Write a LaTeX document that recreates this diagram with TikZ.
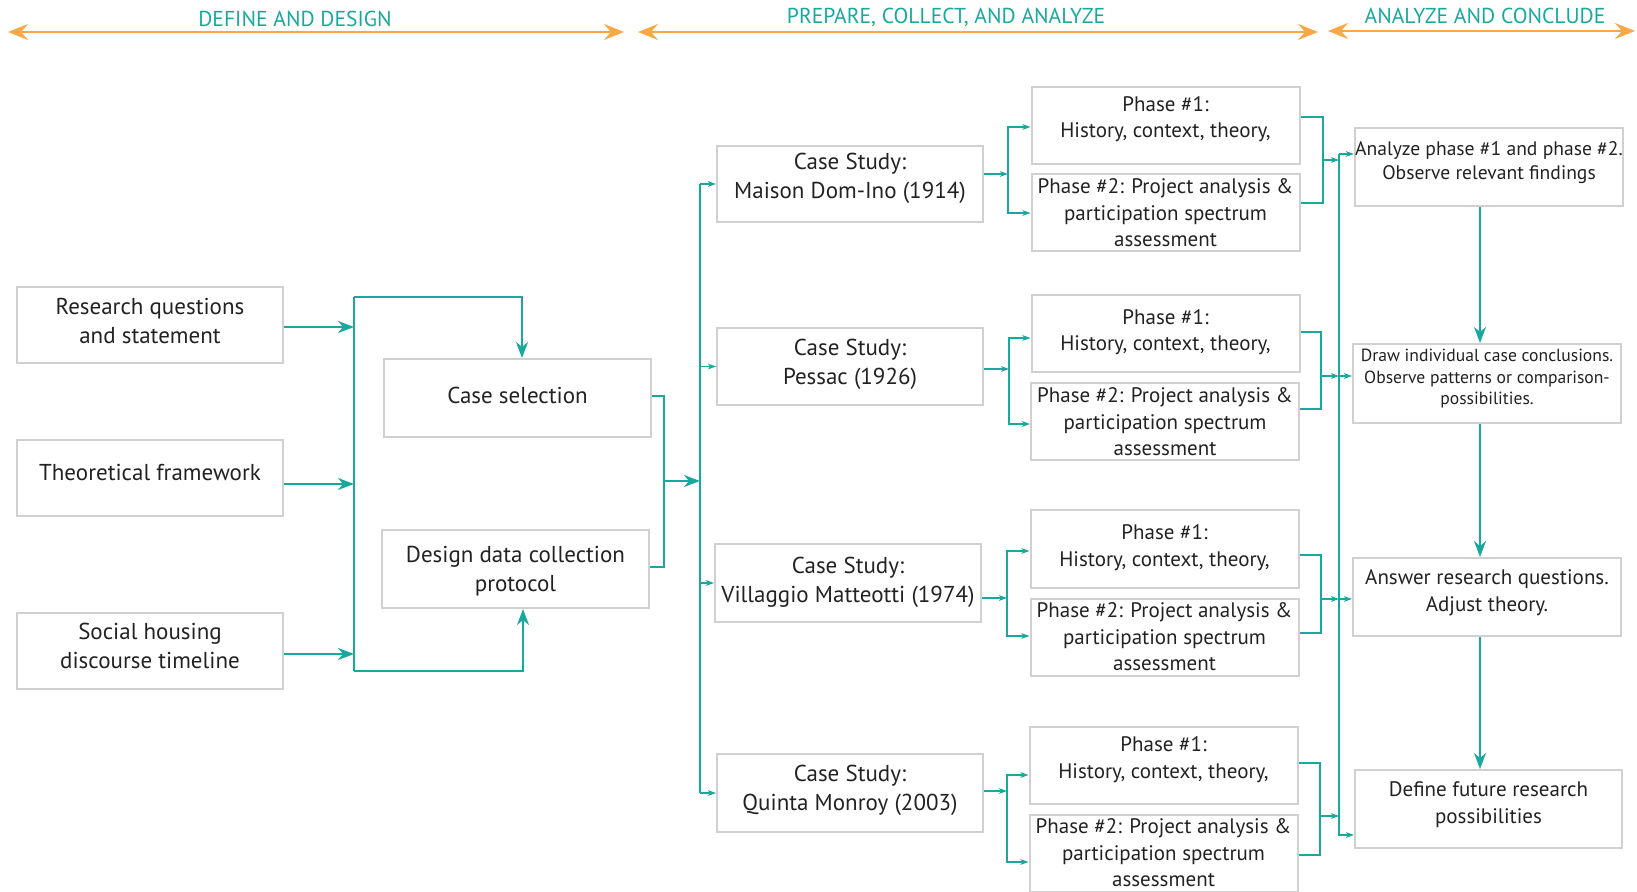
\documentclass[tikz,border=0pt]{standalone}
\usepackage{fontspec}
\setmainfont{PT Sans}
\usetikzlibrary{arrows.meta}
\definecolor{flow}{HTML}{18A89E}
\definecolor{stagebar}{HTML}{F8A945}
\definecolor{stageink}{HTML}{17A99D}
\definecolor{frame}{HTML}{D0D0D0}
\definecolor{ink}{HTML}{222222}
\tikzset{
  box/.style={draw=frame, line width=1pt, text=ink, align=center, inner sep=0pt,
    minimum width=133pt, minimum height=38pt},
  mainbox/.style={box, font=\fontsize{11.5}{14.5}\selectfont},
  phasebox/.style={box, minimum width=134pt, minimum height=38.5pt, font=\fontsize{10.5}{13.3}\selectfont},
  flowline/.style={draw=flow, line width=0.85pt},
  bigarrow/.style={flowline, -{Stealth[length=8pt,width=6pt,inset=2.5pt]}},
  smallarrow/.style={flowline, -{Stealth[length=4pt,width=2.8pt,inset=1pt]}},
  stagearrow/.style={draw=stagebar, line width=1.4pt,
    {Stealth[length=10pt,width=8pt,inset=3.5pt]}-{Stealth[length=10pt,width=8pt,inset=3.5pt]}},
  stagelabel/.style={text=stageink, font=\fontsize{10.8}{13}\selectfont, inner sep=0pt},
}
% trailing empty line that lifts a box text a little
\newcommand{\lift}[1]{\\[-#1]\mbox{}}
\newcommand{\phaseone}[1]{Phase \#1:\\History, context, theory,\lift{#1}}
\newcommand{\phasetwo}{Phase \#2: Project analysis \&\\participation spectrum\\assessment}
\begin{document}
\begin{tikzpicture}[x=0.5pt,y=-0.5pt]
\useasboundingbox (0,0) rectangle (1637,892);

% ---- stage bars along the top
\coordinate (s1a) at (8,32);    \coordinate (s1b) at (624,32);
\coordinate (s2a) at (638,32);  \coordinate (s2b) at (1318,32);
\coordinate (s3a) at (1328,31); \coordinate (s3b) at (1635,31);
\draw[stagearrow] (s1a) -- (s1b);
\draw[stagearrow] (s2a) -- (s2b);
\draw[stagearrow] (s3a) -- (s3b);
\node[stagelabel] (st1) at (295,19) {DEFINE AND DESIGN};
\node[stagelabel] (st2) at (946,17) {PREPARE, COLLECT, AND ANALYZE};
\node[stagelabel] (st3) at (1485,16) {ANALYZE AND CONCLUDE};

% ---- define and design
\node[mainbox] (rq) at (150,325) {Research questions\\and statement\lift{10.3pt}};
\node[mainbox] (tf) at (150,478) {Theoretical framework\lift{9.3pt}};
\node[mainbox] (sh) at (150,651) {Social housing\\discourse timeline\lift{9pt}};
\node[mainbox, minimum width=133.5pt, minimum height=39pt] (cs) at (517.5,398) {Case selection\lift{11.4pt}};
\node[mainbox, minimum width=133.5pt, minimum height=39pt] (dd) at (515.5,569) {\mbox{}\\[-3.9pt]Design data collection\\protocol};

% ---- case studies
\node[mainbox] (m1) at (850,184) {Case Study:\\Maison Dom-Ino (1914)\lift{6.5pt}};
\node[mainbox, minimum height=38.5pt] (m2) at (850,366.5) {Case Study:\\Pessac (1926)\lift{9.6pt}};
\node[mainbox, minimum height=39pt] (m3) at (848,583) {Case Study:\\Villaggio Matteotti (1974)\lift{11.7pt}};
\node[mainbox, minimum height=39pt] (m4) at (850,793) {Case Study:\\Quinta Monroy (2003)\lift{9.6pt}};

% ---- phases of each case
\node[phasebox] (p1a) at (1165.5,125.5) {\phaseone{5pt}};
\node[phasebox] (p1b) at (1165.5,213)   {\phasetwo};
\node[phasebox] (p2a) at (1165.5,334)   {\phaseone{9.2pt}};
\node[phasebox] (p2b) at (1165,422)     {\phasetwo};
\node[phasebox] (p3a) at (1164.5,549)   {\phaseone{9.7pt}};
\node[phasebox] (p3b) at (1164.5,637)   {\phasetwo};
\node[phasebox] (p4a) at (1163.5,765.5) {\phaseone{5.6pt}};
\node[phasebox] (p4b) at (1163.5,853)   {\phasetwo};

% ---- analyze and conclude
\node[box, minimum width=134pt, minimum height=39pt, font=\fontsize{9.8}{12}\selectfont] (an) at (1489,167)
  {Analyze phase \#1 and phase \#2.\\Observe relevant findings\lift{6pt}};
\node[box, minimum width=134pt, minimum height=39.5pt, font=\fontsize{8.8}{10.7}\selectfont] (dr) at (1487,383.5)
  {Draw individual case conclusions.\\Observe patterns or comparison-\\possibilities.\lift{4.2pt}};
\node[box, minimum width=134pt, minimum height=39pt, font=\fontsize{10.5}{13.5}\selectfont] (aw) at (1487,597)
  {Answer research questions.\\Adjust theory.\lift{7pt}};
\node[box, minimum width=133.5pt, minimum height=39pt, font=\fontsize{10.5}{13.5}\selectfont] (df) at (1488.5,809)
  {Define future research\\possibilities\lift{7pt}};

% ---- connectors: left gathering bus
\coordinate (lb1) at (354,297);
\coordinate (lb2) at (354,671);
\draw[bigarrow] ([yshift=-1pt]rq.east) -- ([yshift=-1pt]rq.east -| lb1);
\draw[bigarrow] ([yshift=-3pt]tf.east) -- ([yshift=-3pt]tf.east -| lb1);
\draw[bigarrow] ([yshift=-1.5pt]sh.east) -- ([yshift=-1.5pt]sh.east -| lb1);
\draw[flowline] (lb1) -- (lb2);
\draw[bigarrow] (lb1) -| ([xshift=2.25pt]cs.north);
\draw[bigarrow] (lb2) -| ([xshift=3.75pt]dd.south);

% ---- to the case studies
\coordinate (jn) at (664,481);
\coordinate (cb) at (700,481);
\draw[flowline] ([yshift=1pt]cs.east) -| (jn) |- ([yshift=1pt]dd.east);
\draw[bigarrow] (jn) -- (cb);
\draw[flowline] (cb |- m1.west) -- (cb |- m4.west);
\foreach \c in {m1,m2,m3,m4} \draw[smallarrow] (cb |- \c.west) -- (\c.west);

% ---- case study to its two phases
\coordinate (g1L) at (1008,174);
\coordinate (g2L) at (1009,369);
\coordinate (g3L) at (1007,598);
\coordinate (g4L) at (1007,791);
\draw[smallarrow] ([yshift=5pt]m1.east) -- (g1L);
\draw[smallarrow] (g1L) |- ([yshift=-0.75pt]p1a.west);
\draw[smallarrow] (g1L) |- (p1b.west);
\draw[smallarrow] ([yshift=-1.25pt]m2.east) -- (g2L);
\draw[smallarrow] (g2L) |- ([yshift=-2pt]p2a.west);
\draw[smallarrow] (g2L) |- ([yshift=-1pt]p2b.west);
\draw[smallarrow] ([yshift=-7.5pt]m3.east) -- (g3L);
\draw[smallarrow] (g3L) |- ([yshift=-1pt]p3a.west);
\draw[smallarrow] (g3L) |- ([yshift=0.5pt]p3b.west);
\draw[smallarrow] ([yshift=1pt]m4.east) -- (g4L);
\draw[smallarrow] (g4L) |- ([yshift=-4.75pt]p4a.west);
\draw[smallarrow] (g4L) |- ([yshift=-4.5pt]p4b.west);

% ---- phases gathered again
\coordinate (g1R) at (1323,160);
\coordinate (g2R) at (1321,376);
\coordinate (g3R) at (1321,599);
\coordinate (g4R) at (1320,816);
\draw[flowline] ([yshift=4.25pt]p1a.east) -| (g1R) |- ([yshift=5pt]p1b.east);
\draw[flowline] ([yshift=1pt]p2a.east) -| (g2R) |- ([yshift=6.5pt]p2b.east);
\draw[flowline] ([yshift=-3pt]p3a.east) -| (g3R) |- ([yshift=2pt]p3b.east);
\draw[flowline] ([yshift=1.25pt]p4a.east) -| (g4R) |- ([yshift=-1pt]p4b.east);

% ---- right bus into the conclusions
\coordinate (rbt) at (1339,154);
\coordinate (rbb) at (1339,835);
\draw[smallarrow] (rbt) -- (rbt -| an.west);
\draw[smallarrow] (rbt) -- (rbb) -- (rbb -| df.west);
\draw[smallarrow] (g1R) -- (g1R -| rbt);
\draw[smallarrow] (g2R) -- (g2R -| rbt);
\draw[smallarrow] (g2R -| rbt) -- (g2R -| dr.west);
\draw[smallarrow] (g3R) -- (g3R -| rbt);
\draw[smallarrow] (g3R -| rbt) -- (g3R -| aw.west);
\draw[smallarrow] (g4R) -- (g4R -| rbt);

% ---- conclusion chain
\coordinate (cx) at (1480,0);
\draw[bigarrow] (cx |- an.south) -- (cx |- dr.north);
\draw[bigarrow] (cx |- dr.south) -- (cx |- aw.north);
\draw[bigarrow] (cx |- aw.south) -- (cx |- df.north);
\end{tikzpicture}
\end{document}
